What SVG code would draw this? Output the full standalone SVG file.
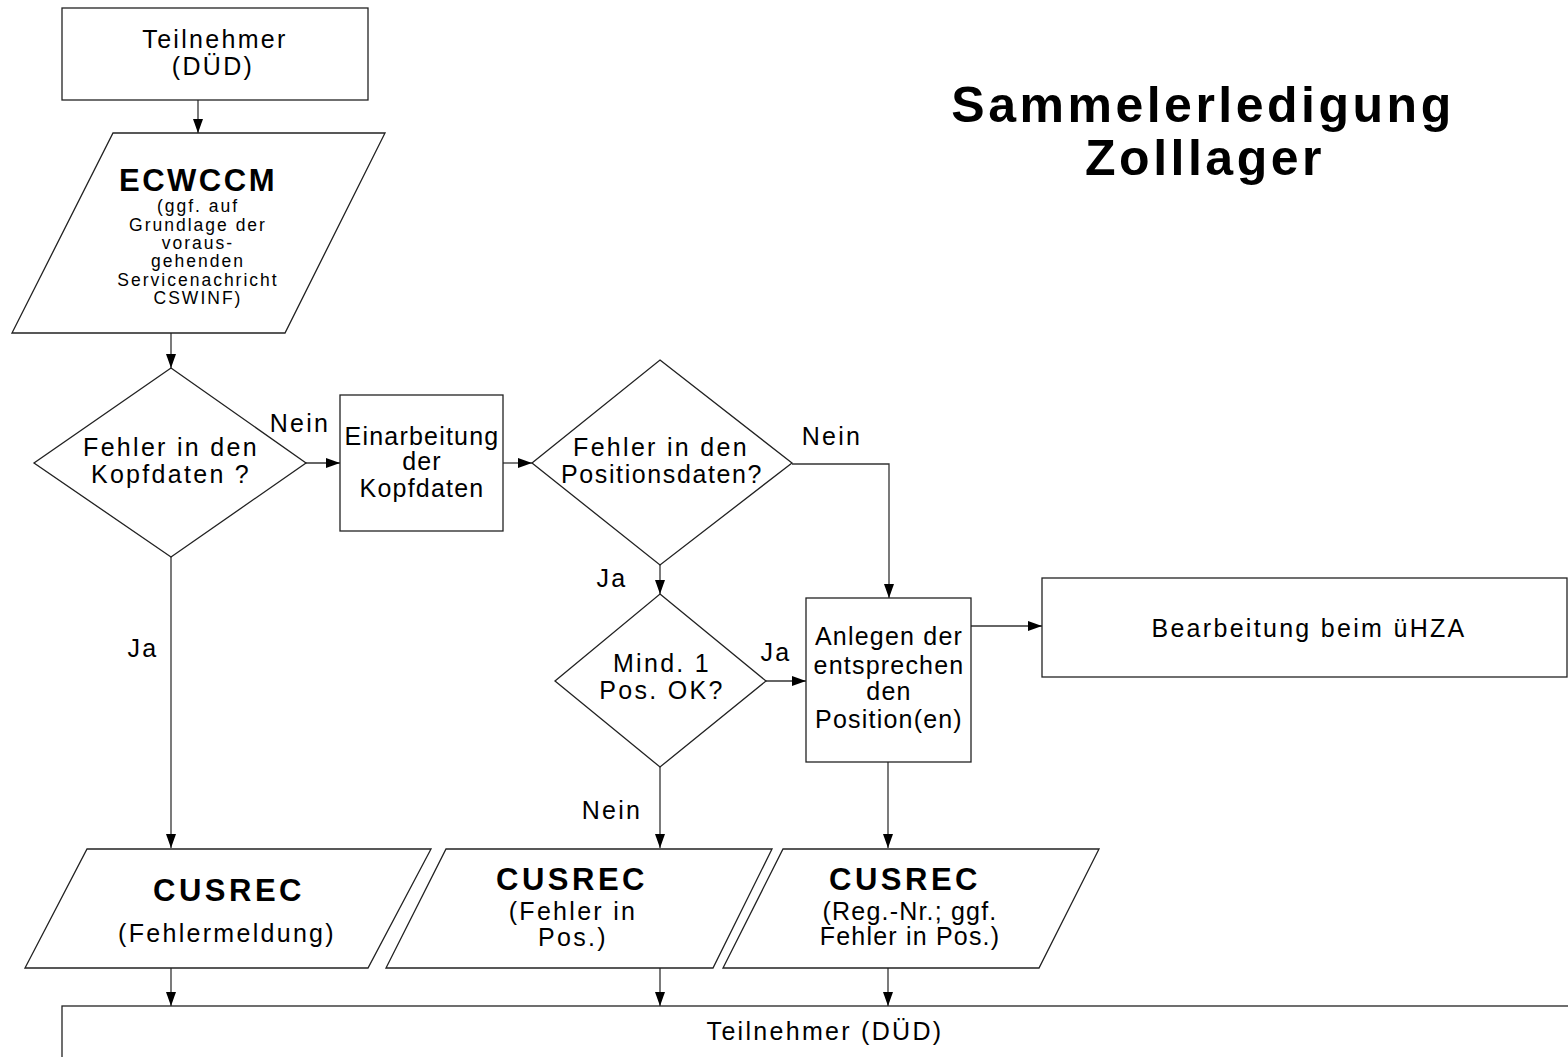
<svg xmlns="http://www.w3.org/2000/svg" width="1568" height="1057" viewBox="0 0 1568 1057">
<style>
text{font-family:"Liberation Sans",Arial,Helvetica,sans-serif;fill:#000;text-anchor:middle}
.t{font-size:25px;letter-spacing:2.3px}
.tb{font-size:25px;letter-spacing:1.2px}
.s{font-size:17.5px;letter-spacing:2px}
.b{font-size:31px;font-weight:bold;letter-spacing:3.5px}
.title{font-size:50px;font-weight:bold;letter-spacing:3.5px}
.shape{fill:#fff;stroke:#222;stroke-width:1.3}
.conn{fill:none;stroke:#333;stroke-width:1.3}
</style>
<defs>
<marker id="arr" markerUnits="userSpaceOnUse" markerWidth="14" markerHeight="10" refX="14" refY="5" orient="auto">
<path d="M0,0 L14,5 L0,10 z" fill="#000"/>
</marker>
</defs>
<rect width="1568" height="1057" fill="#fff"/>

<g id="title">
<text class="title" x="1203" y="122">Sammelerledigung</text>
<text class="title" x="1205" y="175">Zolllager</text>
</g>

<g id="connectors">
<line class="conn" x1="198" y1="100" x2="198" y2="133" marker-end="url(#arr)"/>
<line class="conn" x1="171" y1="333" x2="171" y2="368" marker-end="url(#arr)"/>
<line class="conn" x1="306" y1="463" x2="340" y2="463" marker-end="url(#arr)"/>
<line class="conn" x1="503" y1="463" x2="532" y2="463" marker-end="url(#arr)"/>
<polyline class="conn" points="792,464 889,464 889,598" marker-end="url(#arr)"/>
<line class="conn" x1="660" y1="565" x2="660" y2="594" marker-end="url(#arr)"/>
<line class="conn" x1="766" y1="681" x2="806" y2="681" marker-end="url(#arr)"/>
<line class="conn" x1="971" y1="626" x2="1042" y2="626" marker-end="url(#arr)"/>
<line class="conn" x1="171" y1="557" x2="171" y2="848" marker-end="url(#arr)"/>
<line class="conn" x1="660" y1="767" x2="660" y2="848" marker-end="url(#arr)"/>
<line class="conn" x1="888" y1="762" x2="888" y2="848" marker-end="url(#arr)"/>
<line class="conn" x1="171" y1="968" x2="171" y2="1006" marker-end="url(#arr)"/>
<line class="conn" x1="660" y1="968" x2="660" y2="1006" marker-end="url(#arr)"/>
<line class="conn" x1="888" y1="968" x2="888" y2="1006" marker-end="url(#arr)"/>
<text class="t" x="300" y="432">Nein</text>
<text class="t" x="832" y="445">Nein</text>
<text class="t" x="612" y="587">Ja</text>
<text class="t" x="776" y="661">Ja</text>
<text class="t" x="143" y="657">Ja</text>
<text class="t" x="612" y="819">Nein</text>
</g>

<g id="n-teilnehmer-top">
<rect class="shape" x="62" y="8" width="306" height="92"/>
<text class="t" x="215" y="48">Teilnehmer</text>
<text class="t" x="213" y="75">(DÜD)</text>
</g>

<g id="n-ecwccm">
<polygon class="shape" points="113,133 385,133 285,333 12,333"/>
<text class="b" x="198" y="191" style="letter-spacing:2.5px">ECWCCM</text>
<text class="s" x="198" y="212">(ggf. auf</text>
<text class="s" x="198" y="231">Grundlage der</text>
<text class="s" x="198" y="249">voraus-</text>
<text class="s" x="198" y="267">gehenden</text>
<text class="s" x="198" y="286">Servicenachricht</text>
<text class="s" x="198" y="304">CSWINF)</text>
</g>

<g id="n-fehler-kopf">
<polygon class="shape" points="171,368 306,463 171,557 34,463"/>
<text class="t" x="171" y="456">Fehler in den</text>
<text class="t" x="171" y="483">Kopfdaten ?</text>
</g>

<g id="n-einarbeitung">
<rect class="shape" x="340" y="395" width="163" height="136"/>
<text class="tb" x="422" y="445">Einarbeitung</text>
<text class="tb" x="422" y="470">der</text>
<text class="tb" x="422" y="497">Kopfdaten</text>
</g>

<g id="n-fehler-pos">
<polygon class="shape" points="660,360 792,463 660,565 532,463"/>
<text class="t" x="661" y="456">Fehler in den</text>
<text class="tb" x="662" y="483" style="letter-spacing:1.6px">Positionsdaten?</text>
</g>

<g id="n-mind">
<polygon class="shape" points="660,594 766,681 660,767 555,681"/>
<text class="t" x="662" y="672">Mind. 1</text>
<text class="t" x="662" y="699">Pos. OK?</text>
</g>

<g id="n-anlegen">
<rect class="shape" x="806" y="598" width="165" height="164"/>
<text class="tb" x="889" y="645">Anlegen der</text>
<text class="tb" x="889" y="674">entsprechen</text>
<text class="tb" x="889" y="700">den</text>
<text class="tb" x="889" y="728">Position(en)</text>
</g>

<g id="n-bearbeitung">
<rect class="shape" x="1042" y="578" width="525" height="99"/>
<text class="t" x="1309" y="637">Bearbeitung beim üHZA</text>
</g>

<g id="n-cusrec1">
<polygon class="shape" points="87,849 431,849 368,968 25,968"/>
<text class="b" x="229" y="901">CUSREC</text>
<text class="t" x="227" y="942">(Fehlermeldung)</text>
</g>

<g id="n-cusrec2">
<polygon class="shape" points="446,849 772,849 713,968 386,968"/>
<text class="b" x="572" y="890">CUSREC</text>
<text class="t" x="573" y="920">(Fehler in</text>
<text class="t" x="573" y="946">Pos.)</text>
</g>

<g id="n-cusrec3">
<polygon class="shape" points="783,849 1099,849 1039,968 723,968"/>
<text class="b" x="905" y="890">CUSREC</text>
<text class="tb" x="910" y="920">(Reg.-Nr.; ggf.</text>
<text class="tb" x="910" y="945">Fehler in Pos.)</text>
</g>

<g id="n-teilnehmer-bottom">
<rect class="shape" x="62" y="1006" width="1540" height="80"/>
<text class="t" x="825" y="1040">Teilnehmer (DÜD)</text>
</g>
</svg>
